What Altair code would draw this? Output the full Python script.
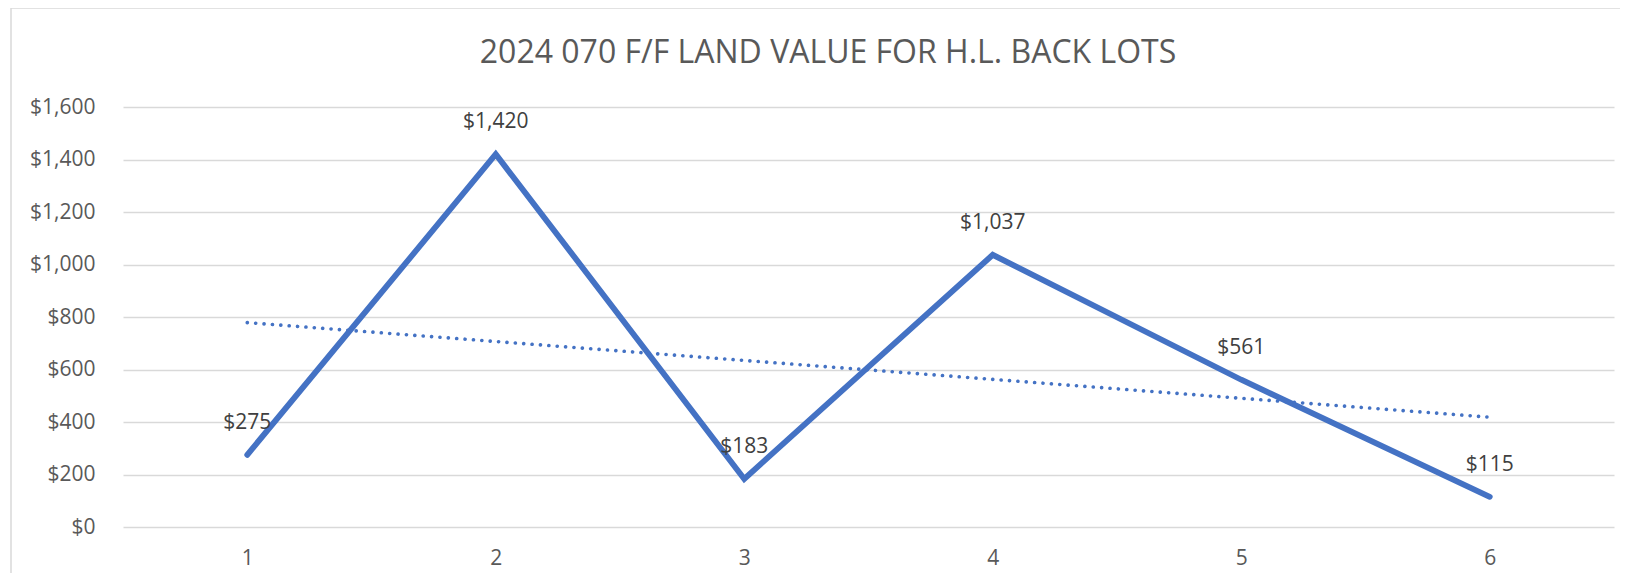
import altair as alt
import pandas as pd

lots = [1, 2, 3, 4, 5, 6]
values = [275, 1420, 183, 1037, 561, 115]
y_ticks = [0, 200, 400, 600, 800, 1000, 1200, 1400, 1600]
title_text = "2024 070 F/F LAND VALUE FOR H.L. BACK LOTS"

df = pd.DataFrame({"lot": lots, "value": values})

FONT = "Open Sans"
BLUE = "#4472C4"
GRID = "#D9D9D9"

x_enc = alt.X(
    "lot:Q",
    scale=alt.Scale(domain=[0.5, 6.5], nice=False, zero=False),
    axis=alt.Axis(
        values=lots, format="d", grid=False, ticks=False, domain=False,
        labelFont=FONT, labelFontSize=21, labelColor="#595959",
        labelPadding=20, title=None,
    ),
)
y_enc = alt.Y(
    "value:Q",
    scale=alt.Scale(domain=[0, 1600], nice=False),
    axis=alt.Axis(
        values=y_ticks, format="$,.0f", grid=True, gridColor=GRID, gridWidth=1.4,
        ticks=False, domain=False,
        labelFont=FONT, labelFontSize=21, labelColor="#595959",
        labelPadding=28, title=None,
    ),
)

border = alt.Chart(alt.Data(values=[{"a": 1}])).mark_rect(
    fill=None, stroke=GRID, strokeWidth=1.5
).encode(
    x=alt.value(-112), x2=alt.value(1700), y=alt.value(-99), y2=alt.value(700)
)

title = alt.Chart(alt.Data(values=[{"t": title_text}])).mark_text(
    font=FONT, fontSize=32, color="#595959", align="center", baseline="alphabetic"
).encode(x=alt.value(705), y=alt.value(-44), text="t:N")

line = alt.Chart(df).mark_line(
    color=BLUE, strokeWidth=5.8, strokeCap="round", strokeJoin="miter"
).encode(x=x_enc, y=y_enc)

trend = alt.Chart(df).transform_regression(
    "lot", "value", extent=[1, 6]
).mark_line(
    color=BLUE, strokeWidth=3.6, strokeDash=[0.1, 8.3], strokeCap="round"
).encode(x="lot:Q", y="value:Q")

labels = alt.Chart(df).mark_text(
    font=FONT, fontSize=21, color="#404040", dy=-32, baseline="middle"
).encode(x="lot:Q", y="value:Q", text=alt.Text("value:Q", format="$,.0f"))

chart = alt.layer(border, title, line, trend, labels).properties(
    width=1491,
    height=420,
    autosize=alt.AutoSizeParams(type="none"),
    padding={"left": 115, "top": 99, "right": 6, "bottom": 46},
).configure_view(stroke=None)

chart.save("out.html", embed_options={"renderer": "svg", "actions": False})
